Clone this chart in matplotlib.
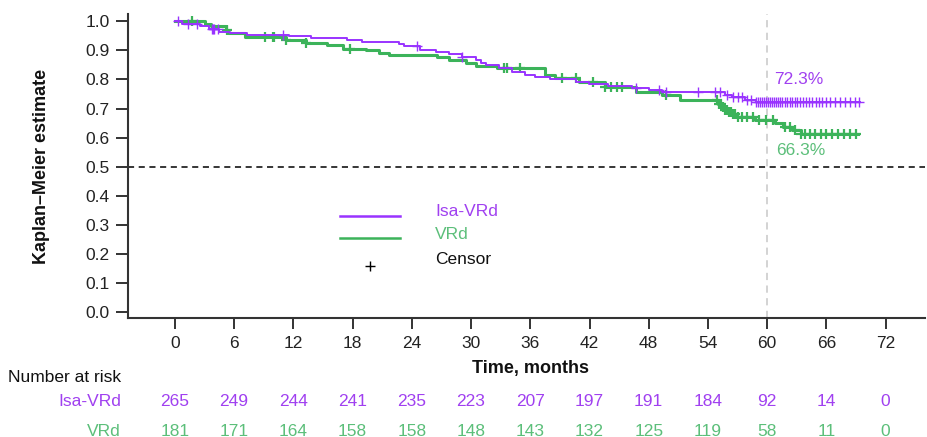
import matplotlib
matplotlib.use("Agg")
import matplotlib.pyplot as plt
import matplotlib.transforms as mtransforms
from matplotlib.lines import Line2D
import numpy as np

plt.rcParams.update({
    "font.family": ["Liberation Sans", "DejaVu Sans"],
    "axes.unicode_minus": False,
})

# --- Data ---
isa_t = [0, 0.7, 2.5, 3.5, 4.5, 5.6, 7.3, 11.6, 13.8, 17.4, 19.0, 22.7, 23.2, 24.8,
         26.5, 27.8, 29.1, 30.5, 31.0, 31.5, 32.8, 34.1, 35.5, 36.5, 38.0, 40.6,
         41.9, 43.9, 46.3, 48.0, 49.3, 55.7, 56.4, 57.8, 58.9, 69.4]
isa_s = [1.0, 0.992, 0.985, 0.975, 0.963, 0.961, 0.954, 0.948, 0.943, 0.935, 0.928,
         0.922, 0.915, 0.900, 0.895, 0.889, 0.878, 0.868, 0.855, 0.849, 0.838, 0.826,
         0.814, 0.808, 0.803, 0.791, 0.786, 0.778, 0.772, 0.763, 0.757, 0.746, 0.738,
         0.731, 0.723, 0.723]
isa_cens = [0.3, 1.3, 2.2, 3.8, 3.9, 4.0, 4.4, 11.0, 24.5, 29.1, 46.7, 49.0, 49.7,
            53.0, 54.7, 55.2, 55.9, 56.5, 57.0, 57.4, 58.0, 58.4, 58.9, 59.1, 59.3,
            59.5, 59.7, 59.9, 60.1, 60.3, 60.5, 60.7, 60.9, 61.1, 61.3, 61.5, 61.8,
            62.0, 62.3, 62.5, 62.8, 63.0, 63.3, 63.6, 63.9, 64.2, 64.5, 64.9, 65.2,
            65.6, 66.0, 66.4, 66.9, 67.4, 67.9, 68.4, 68.9, 69.3]

vrd_t = [0, 3.0, 3.7, 5.2, 5.4, 7.1, 11.3, 13.3, 15.4, 17.0, 19.4, 20.7, 21.7, 26.6,
         27.8, 29.5, 30.5, 32.6, 37.5, 38.5, 40.9, 43.6, 46.7, 49.3, 51.2, 55.0, 55.4,
         55.7, 56.1, 56.4, 56.8, 58.8, 60.8, 61.6, 62.5, 63.4, 69.2]
vrd_s = [1.0, 0.992, 0.983, 0.971, 0.958, 0.946, 0.935, 0.927, 0.920, 0.906, 0.900,
         0.892, 0.885, 0.878, 0.868, 0.858, 0.847, 0.838, 0.815, 0.805, 0.792, 0.775,
         0.757, 0.746, 0.729, 0.715, 0.705, 0.694, 0.687, 0.680, 0.671, 0.662, 0.651,
         0.637, 0.625, 0.612, 0.612]
vrd_cens = [1.7, 5.3, 9.1, 9.9, 10.0, 11.3, 13.3, 17.7, 33.3, 33.6, 35.0, 39.2, 40.6,
            42.4, 43.6, 44.2, 44.8, 45.3, 49.7, 54.9, 55.1, 55.3, 55.5, 55.7, 55.9,
            56.1, 56.3, 56.5, 56.7, 57.0, 57.4, 58.0, 58.6, 59.2, 59.9, 60.6, 61.8,
            62.3, 62.8, 63.4, 63.8, 64.3, 64.8, 65.4, 66.0, 66.6, 67.2, 67.8, 68.4,
            69.0]

risk_times = [0, 6, 12, 18, 24, 30, 36, 42, 48, 54, 60, 66, 72]
isa_risk = [265, 249, 244, 241, 235, 223, 207, 197, 191, 184, 92, 14, 0]
vrd_risk = [181, 171, 164, 158, 158, 148, 143, 132, 125, 119, 58, 11, 0]

isa_label, vrd_label = "Isa-VRd", "VRd"
isa_pct, vrd_pct = "72.3%", "66.3%"

# --- Colors ---
isa_line = "#9933ff"
isa_text = "#a040f0"
vrd_line = "#3cb35a"
vrd_text = "#5cbf7a"
axis_col = "#333333"
fs = 12.5


def step_value(times, surv, t):
    idx = np.searchsorted(times, t, side="right") - 1
    return np.asarray(surv)[idx]


fig = plt.figure(figsize=(9.27, 4.37), dpi=100)
ax = fig.add_axes([128 / 927, 1 - 318 / 437, 1 - 128 / 927 - 0.002, (318 - 14) / 437])

ax.step(vrd_t, vrd_s, where="post", color=vrd_line, lw=2.2, zorder=2)
ax.step(isa_t, isa_s, where="post", color=isa_line, lw=1.4, zorder=3)
ax.plot(vrd_cens, step_value(vrd_t, vrd_s, vrd_cens), ls="none", marker="+",
        ms=7, mew=1.6, color=vrd_line, zorder=2)
ax.plot(isa_cens, step_value(isa_t, isa_s, isa_cens), ls="none", marker="+",
        ms=7, mew=1.0, color=isa_line, zorder=3)

# reference lines
ax.axhline(0.5, color="black", lw=1.1, ls=(0, (4, 3)), zorder=1)
ax.axvline(60, color="#d0d0d0", lw=1.3, ls=(0, (4, 3)), zorder=0)

ax.text(60.7, 0.80, isa_pct, color=isa_text, fontsize=fs, va="center")
ax.text(60.9, 0.555, vrd_pct, color=vrd_text, fontsize=fs, va="center")

# axes styling
ax.set_xlim(-4.75, 76)
ax.set_ylim(-0.02, 1.025)
ax.set_xticks(risk_times)
ax.set_yticks(np.arange(0, 1.01, 0.1))
ax.set_yticklabels([f"{v:.1f}" for v in np.arange(0, 1.01, 0.1)])
ax.tick_params(axis="both", direction="out", colors=axis_col, labelsize=fs,
               width=1.4, labelcolor="#222222")
ax.tick_params(axis="y", length=9, pad=4)
ax.tick_params(axis="x", length=8, pad=5)
for side in ("top", "right"):
    ax.spines[side].set_visible(False)
for side in ("left", "bottom"):
    ax.spines[side].set_color(axis_col)
    ax.spines[side].set_linewidth(1.5)

fig.text(42 / 927, 1 - 166 / 437, "Kaplan\u2013Meier estimate", rotation=90,
         ha="center", va="center", fontsize=13, fontweight="bold", color="#111111")
fig.text(531 / 927, 1 - 368 / 437, "Time, months", ha="center", va="center",
         fontsize=13, fontweight="bold", color="#111111")

# legend drawn by hand
for yy, col, lab, tcol in [(216, isa_line, isa_label, isa_text),
                           (238, vrd_line, vrd_label, vrd_text)]:
    fig.add_artist(Line2D([340 / 927, 400 / 927], [1 - yy / 437] * 2,
                          color=col, lw=1.8, transform=fig.transFigure))
    fig.text(435 / 927, 1 - (yy - 4) / 437, lab, color=tcol, fontsize=fs,
             va="center")
fig.add_artist(Line2D([370 / 927], [1 - 266 / 437], marker="+", ms=7, mew=1.0,
                      color="black", transform=fig.transFigure))
fig.text(435 / 927, 1 - 260 / 437, "Censor", color="#111111", fontsize=fs,
         va="center")

# number at risk table
fig.text(8 / 927, 1 - 377 / 437, "Number at risk", fontsize=fs, color="#111111",
         va="center")
trans = mtransforms.blended_transform_factory(ax.transData, fig.transFigure)
fig.text(121 / 927, 1 - 401 / 437, isa_label, color=isa_text, fontsize=fs,
         ha="right", va="center")
fig.text(121 / 927, 1 - 431 / 437, vrd_label, color=vrd_text, fontsize=fs,
         ha="right", va="center")
for t, a, b in zip(risk_times, isa_risk, vrd_risk):
    ax.text(t, 1 - 401 / 437, str(a), transform=trans, color=isa_text, fontsize=fs,
            ha="center", va="center", clip_on=False)
    ax.text(t, 1 - 431 / 437, str(b), transform=trans, color=vrd_text, fontsize=fs,
            ha="center", va="center", clip_on=False)

fig.savefig("out.png", dpi=100, facecolor="white")
